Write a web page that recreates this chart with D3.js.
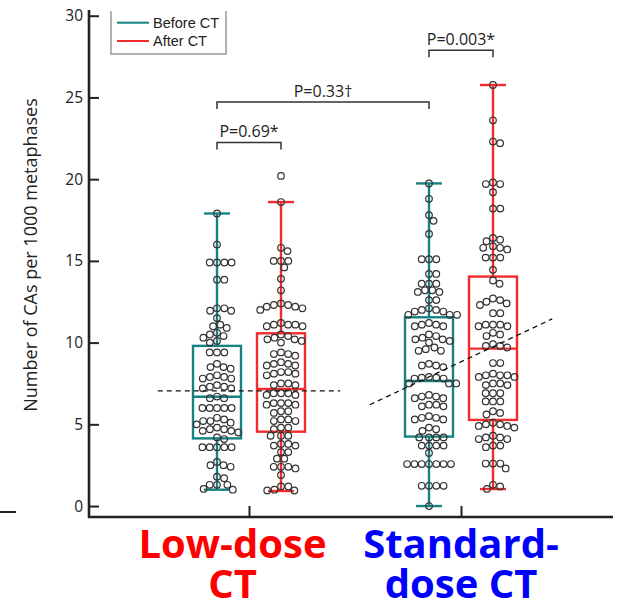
<!DOCTYPE html>
<html>
<head>
<meta charset="utf-8">
<script src="https://cdn.jsdelivr.net/npm/d3@7"></script>
<style>
  body { margin: 0; background: #fff; }
  svg { display: block; }
</style>
</head>
<body>
<svg id="chart" width="626" height="601"></svg>
<script>
const groups = ["Low-dose CT", "Standard-dose CT"];
const phases = ["Before CT", "After CT"];
const phaseColors = ["#168383", "#f22c2c"];
const groupLabelLines = [["Low-dose", "CT"], ["Standard-", "dose CT"]];
const groupLabelColors = ["#ff0000", "#0000ff"];
const yTicks = [0, 5, 10, 15, 20, 25, 30];

// box stats: [lower whisker, q1, median, q3, upper whisker]
const boxLowBefore = [1.0, 4.14, 6.69, 9.8, 17.9];
const boxLowAfter = [0.92, 4.55, 7.16, 10.57, 18.6];
const boxStdBefore = [0.0, 4.25, 7.65, 11.55, 19.74];
const boxStdAfter = [1.04, 5.27, 9.63, 14.04, 25.76];

// individual patients
const ptsLowBefore = [17.9, 16.0, 14.9, 14.9, 14.9, 14.9, 13.85, 13.85, 12.1, 12.1, 11.95, 11.95, 11.5,
  11.1, 11.0, 10.9, 10.6, 10.5, 10.4, 10.3, 10.1, 10.0, 9.4, 9.4, 9.4, 8.7, 8.5, 8.5, 8.4,
  8.0, 7.9, 7.9, 7.8, 7.8, 7.4, 7.3, 7.3, 7.2, 7.2, 6.7, 6.6, 6.6, 6.0, 6.0, 6.0, 6.0, 6.0,
  5.4, 5.3, 5.2, 5.2, 5.1, 5.0, 4.8, 4.7, 4.7, 4.6, 4.6, 4.5, 4.2, 4.1, 3.6, 3.6, 3.6, 3.6, 3.6,
  2.7, 2.5, 2.5, 2.4, 1.8, 1.7, 1.3, 1.3, 1.3, 1.05, 1.0];
const ptsLowAfter = [20.2, 18.6, 15.8, 15.6, 15.0, 15.0, 15.0, 14.6, 13.9, 13.2, 12.4, 12.3, 12.3, 12.2,
  12.2, 12.1, 12.0, 11.2, 11.1, 11.1, 11.0, 11.0, 11.1, 10.5, 10.4, 10.3, 10.2, 10.2, 10.1, 10.0,
  9.4, 9.3, 9.3, 9.2, 8.8, 8.7, 8.7, 8.6, 8.6, 8.2, 8.2, 8.1, 8.1, 8.0, 7.5, 7.5, 7.4, 7.4,
  6.9, 6.9, 6.9, 6.8, 6.8, 6.3, 6.3, 6.3, 6.2, 6.2, 5.8, 5.8, 5.7, 5.3, 5.3, 5.2, 5.2, 4.8, 4.8, 4.7,
  4.3, 4.3, 4.3, 3.8, 3.8, 3.7, 3.7, 3.3, 3.3, 2.9, 2.9, 2.4, 2.4, 2.4, 2.3, 1.9, 1.2, 1.2, 1.0, 0.95, 0.95];
const ptsStdBefore = [19.74, 18.8, 17.8, 17.45, 16.65, 15.1, 15.1, 15.1, 14.2, 14.2, 13.6, 13.6, 13.6,
  13.2, 13.2, 13.1, 13.1, 12.6, 12.6, 12.1, 12.0, 12.0, 11.9, 11.9, 11.7, 11.7, 11.7,
  11.2, 11.1, 11.1, 11.0, 11.0, 10.5, 10.4, 10.3, 10.2, 10.2, 10.1, 10.0, 9.7, 9.6, 9.5, 9.5,
  8.7, 8.6, 8.6, 8.5, 7.9, 7.85, 7.85, 7.8, 7.8, 7.5, 7.5, 7.5, 6.8, 6.7, 6.7, 6.6, 6.6,
  6.2, 6.2, 6.1, 6.1, 5.5, 5.4, 5.4, 5.3, 5.3, 4.8, 4.7, 4.6, 4.2, 4.2, 4.2, 4.2, 3.7, 3.7, 3.7, 3.7,
  3.25, 2.57, 2.57, 2.57, 2.57, 2.57, 2.57, 2.57, 1.24, 1.24, 1.24, 1.24, 0.0];
const ptsStdAfter = [25.76, 23.6, 22.3, 22.2, 19.8, 19.7, 19.7, 19.2, 18.2, 18.2, 16.4, 16.3, 16.2,
  15.9, 15.8, 15.8, 15.7, 15.2, 15.2, 15.2, 14.45, 13.8, 13.6, 12.7, 12.6, 12.5, 12.4, 12.3, 11.8, 11.8,
  11.1, 11.1, 11.1, 11.0, 11.0, 10.6, 10.5, 10.4, 9.9, 9.8, 9.8, 9.7, 8.75, 8.75,
  8.1, 8.0, 8.0, 8.0, 7.9, 7.9, 7.5, 7.5, 7.4, 7.4, 6.9, 6.9, 6.9, 6.4, 6.4, 6.4, 5.8, 5.7, 5.6,
  5.1, 5.0, 5.0, 4.9, 4.9, 4.8, 4.3, 4.2, 4.2, 4.1, 4.1, 3.7, 3.7, 3.6, 2.6, 2.6, 2.6, 2.3, 1.3, 1.2, 1.05];

// dashed trend lines per group: [value at left end, value at right end]
const trendLow = [7.05, 7.05];
const trendStd = [6.2, 11.45];
const trendReach = 2.85; // in half-box-spacing units

// significance brackets: [group, phase] pairs
const brackets = [
  { a: [0, 0], b: [0, 1], level: 22.25, label: "P=0.69*" },
  { a: [0, 0], b: [1, 0], level: 24.72, label: "P=0.33\u2020" },
  { a: [1, 0], b: [1, 1], level: 27.88, label: "P=0.003*" }
];

const series = [
  { g: 0, p: 0, box: boxLowBefore, pts: ptsLowBefore },
  { g: 0, p: 1, box: boxLowAfter, pts: ptsLowAfter },
  { g: 1, p: 0, box: boxStdBefore, pts: ptsStdBefore },
  { g: 1, p: 1, box: boxStdAfter, pts: ptsStdAfter }
];

const svg = d3.select("#chart");
const plotLeft = 89, plotRight = 613, plotBottom = 517, plotTop = 10;

const y = d3.scaleLinear().domain([-0.67, 30.35]).range([plotBottom, plotTop]);
const x = d3.scalePoint().domain(groups).range([249, 461]);
const off = d3.scaleLinear().domain([-1, 1]).range([-32, 32]);
const cx = (g, p) => x(groups[g]) + off(p === 0 ? -1 : 1);

const boxW = 48, capW = 26, lineW = 2.4;
const r = 3.3, diam = 7.3;

// simple beeswarm: each point at its y, nearest free x offset
function swarm(vals) {
  const placed = [];
  const items = vals.map(v => ({ v, py: y(v) })).sort((a, b) => a.py - b.py);
  for (const p of items) {
    const near = placed.filter(q => Math.abs(q.py - p.py) < diam);
    const cands = [0];
    near.forEach(q => {
      const dx = Math.sqrt(diam * diam - (q.py - p.py) ** 2);
      cands.push(q.dx + dx, q.dx - dx);
    });
    cands.sort((a, b) => Math.abs(a) - Math.abs(b));
    p.dx = cands.find(c => near.every(q => (c - q.dx) ** 2 + (q.py - p.py) ** 2 >= diam * diam - 0.01));
    placed.push(p);
  }
  return placed;
}

// axes
const yAxis = d3.axisLeft(y).tickValues(yTicks).tickSize(-10).tickPadding(6);
svg.append("g")
  .attr("transform", `translate(${plotLeft},0)`)
  .call(yAxis)
  .call(g => g.select(".domain").remove())
  .call(g => g.selectAll(".tick line").attr("stroke", "#222").attr("stroke-width", 2))
  .call(g => g.selectAll(".tick text")
    .attr("fill", "#222")
    .attr("font-family", "'Open Sans', sans-serif")
    .attr("font-size", 15.5));

const xAxis = d3.axisBottom(x).tickSize(-11).tickFormat("");
svg.append("g")
  .attr("transform", `translate(0,${plotBottom})`)
  .call(xAxis)
  .call(g => g.select(".domain").remove())
  .call(g => g.selectAll(".tick line").attr("stroke", "#222").attr("stroke-width", 2));

svg.append("line")
  .attr("x1", plotLeft).attr("x2", plotLeft).attr("y1", plotTop).attr("y2", plotBottom + 1)
  .attr("stroke", "#222").attr("stroke-width", 2.6);
svg.append("line")
  .attr("x1", plotLeft - 1).attr("x2", plotRight).attr("y1", plotBottom).attr("y2", plotBottom)
  .attr("stroke", "#222").attr("stroke-width", 2.6);
// stray tick at far left of the original figure
svg.append("line")
  .attr("x1", 0).attr("x2", 16).attr("y1", 512).attr("y2", 512)
  .attr("stroke", "#222").attr("stroke-width", 2);

svg.append("text")
  .attr("transform", `translate(37,255) rotate(-90)`)
  .attr("text-anchor", "middle")
  .attr("font-family", "'Open Sans', sans-serif")
  .attr("font-size", 18)
  .attr("fill", "#222")
  .text("Number of CAs per 1000 metaphases");

// boxes
const boxes = svg.append("g").selectAll("g").data(series).join("g")
  .attr("stroke", d => phaseColors[d.p])
  .attr("stroke-width", lineW)
  .attr("fill", "none");

boxes.append("line")
  .attr("x1", d => cx(d.g, d.p)).attr("x2", d => cx(d.g, d.p))
  .attr("y1", d => y(d.box[0])).attr("y2", d => y(d.box[1]));
boxes.append("line")
  .attr("x1", d => cx(d.g, d.p)).attr("x2", d => cx(d.g, d.p))
  .attr("y1", d => y(d.box[3])).attr("y2", d => y(d.box[4]));
boxes.append("line")
  .attr("x1", d => cx(d.g, d.p) - capW / 2).attr("x2", d => cx(d.g, d.p) + capW / 2)
  .attr("y1", d => y(d.box[0])).attr("y2", d => y(d.box[0]));
boxes.append("line")
  .attr("x1", d => cx(d.g, d.p) - capW / 2).attr("x2", d => cx(d.g, d.p) + capW / 2)
  .attr("y1", d => y(d.box[4])).attr("y2", d => y(d.box[4]));
boxes.append("rect")
  .attr("x", d => cx(d.g, d.p) - boxW / 2)
  .attr("width", boxW)
  .attr("y", d => y(d.box[3]))
  .attr("height", d => y(d.box[1]) - y(d.box[3]));
boxes.append("line")
  .attr("x1", d => cx(d.g, d.p) - boxW / 2).attr("x2", d => cx(d.g, d.p) + boxW / 2)
  .attr("y1", d => y(d.box[2])).attr("y2", d => y(d.box[2]));

// points
series.forEach(s => {
  svg.append("g")
    .selectAll("circle")
    .data(swarm(s.pts))
    .join("circle")
    .attr("cx", d => cx(s.g, s.p) + d.dx)
    .attr("cy", d => d.py)
    .attr("r", r)
    .attr("fill", "none")
    .attr("stroke", "#333")
    .attr("stroke-width", 1.2);
});

// trend lines
[trendLow, trendStd].forEach((t, gi) => {
  const c = x(groups[gi]);
  svg.append("line")
    .attr("x1", c + off(-trendReach)).attr("x2", c + off(trendReach))
    .attr("y1", y(t[0])).attr("y2", y(t[1]))
    .attr("stroke", "#111").attr("stroke-width", 1.3)
    .attr("stroke-dasharray", "5,4");
});

// brackets
const br = svg.append("g").selectAll("g").data(brackets).join("g");
br.append("path")
  .attr("d", d => {
    const x1 = cx(d.a[0], d.a[1]), x2 = cx(d.b[0], d.b[1]), yy = y(d.level);
    return `M${x1},${yy + 7}V${yy}H${x2}V${yy + 7}`;
  })
  .attr("fill", "none").attr("stroke", "#333").attr("stroke-width", 1.5);
br.append("text")
  .attr("x", d => (cx(d.a[0], d.a[1]) + cx(d.b[0], d.b[1])) / 2)
  .attr("y", d => y(d.level) - 5)
  .attr("text-anchor", "middle")
  .attr("font-family", "'Open Sans', sans-serif")
  .attr("font-size", 16)
  .attr("fill", "#222")
  .text(d => d.label);

// legend
const lg = svg.append("g");
lg.append("path")
  .attr("d", "M111,11V54H226V11")
  .attr("fill", "none").attr("stroke", "#999").attr("stroke-width", 1.5);
phases.forEach((p, i) => {
  const ly = 22.7 + i * 18.3;
  lg.append("line").attr("x1", 117).attr("x2", 149).attr("y1", ly).attr("y2", ly)
    .attr("stroke", phaseColors[i]).attr("stroke-width", 2);
  lg.append("text").attr("x", 153).attr("y", ly + 5)
    .attr("font-family", "'Liberation Sans', Arial, sans-serif")
    .attr("font-size", 14.5).attr("fill", "#222")
    .text(p);
});

// group labels below axis, two lines each (the second line is cut by the bottom edge, as in the original)
const labelCenters = [232.5, 461];
groupLabelLines.forEach((lines, gi) => {
  lines.forEach((t, li) => {
    svg.append("text")
      .attr("x", labelCenters[gi])
      .attr("y", 558 + li * 40)
      .attr("text-anchor", "middle")
      .attr("font-family", "'Open Sans', sans-serif")
      .attr("font-weight", "bold")
      .attr("font-size", 40)
      .attr("fill", groupLabelColors[gi])
      .text(t);
  });
});
</script>
</body>
</html>
